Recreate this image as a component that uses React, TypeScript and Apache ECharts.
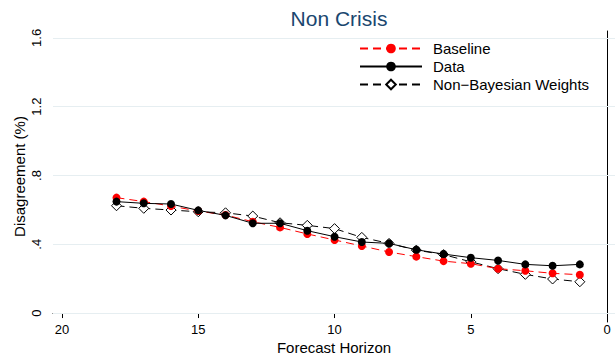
import React, { useEffect, useRef } from "react";
import * as echarts from "echarts";

const horizon = [18, 17, 16, 15, 14, 13, 12, 11, 10, 9, 8, 7, 6, 5, 4, 3, 2, 1];
const baseline = [0.671, 0.648, 0.622, 0.593, 0.570, 0.531, 0.498, 0.460, 0.425, 0.390, 0.355, 0.328, 0.302, 0.287, 0.258, 0.246, 0.231, 0.223];
const dataSeries = [0.648, 0.638, 0.634, 0.597, 0.568, 0.522, 0.522, 0.479, 0.444, 0.413, 0.405, 0.368, 0.343, 0.322, 0.306, 0.283, 0.275, 0.283];
const nonBayes = [0.624, 0.609, 0.599, 0.589, 0.583, 0.564, 0.525, 0.510, 0.491, 0.440, 0.405, 0.366, 0.340, 0.298, 0.258, 0.225, 0.198, 0.182];
const xTicks = [0, 5, 10, 15, 20];
const yTicks = [0, 0.4, 0.8, 1.2, 1.6];
const yTickLabels: Record<string, string> = { "0": "0", "0.4": ".4", "0.8": ".8", "1.2": "1.2", "1.6": "1.6" };

const FONT = "Liberation Sans, Arial, Helvetica, sans-serif";

export default function App() {
  const ref = useRef<HTMLDivElement>(null);
  useEffect(() => {
    if (!ref.current) return;
    const chart = echarts.init(ref.current, null, { renderer: "svg" });
    const pairs = (arr: number[]) => horizon.map((h, i) => [h, arr[i]]);
    chart.setOption({
      animation: false,
      backgroundColor: "#ffffff",
      textStyle: { fontFamily: FONT },
      title: {
        text: "Non Crisis",
        left: 334,
        textAlign: "center",
        top: 3,
        textStyle: { color: "#1a476f", fontSize: 21, fontWeight: "normal", fontFamily: FONT },
      },
      legend: {
        left: 354,
        top: 36,
        orient: "vertical",
        itemWidth: 62,
        itemHeight: 12,
        itemGap: 3,
        textStyle: { fontSize: 15, color: "#000", fontFamily: FONT, padding: [0, 0, 0, 6] },
        data: ["Baseline", "Data", "Non\u2212Bayesian Weights"],
      },
      grid: { left: 53, right: 0, top: 31, bottom: 38, outerBoundsMode: "none", containLabel: false },
      xAxis: {
        type: "value",
        inverse: true,
        min: -0.29,
        max: 20.33,
        name: "Forecast Horizon",
        nameLocation: "middle",
        nameGap: 18,
        nameMoveOverlap: false,
        nameTextStyle: { fontSize: 15, color: "#000", fontFamily: FONT },
        axisLine: { show: true, lineStyle: { color: "#000", width: 1 } },
        axisTick: { show: true, customValues: xTicks, length: 5, lineStyle: { color: "#000" } },
        axisLabel: { customValues: xTicks, fontSize: 13, color: "#000", margin: 1, fontFamily: FONT },
        splitLine: { show: false },
      },
      yAxis: {
        type: "value",
        min: -0.052,
        max: 1.64,
        name: "Disagreement (%)",
        nameLocation: "middle",
        nameGap: 26,
        nameMoveOverlap: false,
        nameRotate: 90,
        nameTextStyle: { fontSize: 15, color: "#000", fontFamily: FONT },
        axisLine: { show: true, lineStyle: { color: "#000", width: 1 } },
        axisTick: { show: true, customValues: yTicks, length: 5, lineStyle: { color: "#000" } },
        axisLabel: {
          customValues: yTicks,
          rotate: 90,
          fontSize: 13,
          color: "#000",
          margin: 10,
          fontFamily: FONT,
          formatter: (v: number) => yTickLabels[String(Math.round(v * 10) / 10)] ?? String(v),
        },
        splitLine: { show: false },
      },
      series: [
        {
          name: "Baseline",
          type: "line",
          data: pairs(baseline),
          z: 3,
          symbol: "circle",
          symbolSize: 8,
          itemStyle: { color: "#ff0000" },
          lineStyle: { color: "#ff0000", width: 1, type: [8, 5] },
          markLine: {
            silent: true,
            symbol: "none",
            label: { show: false },
            lineStyle: { color: "#e6eef1", type: "solid", width: 1 },
            data: yTicks.map((v) => ({ yAxis: v })),
            z: 1,
          },
        },
        {
          name: "Data",
          type: "line",
          data: pairs(dataSeries),
          z: 4,
          symbol: "circle",
          symbolSize: 8,
          itemStyle: { color: "#000000" },
          lineStyle: { color: "#000000", width: 1, type: "solid" },
        },
        {
          name: "Non\u2212Bayesian Weights",
          type: "line",
          data: pairs(nonBayes),
          z: 2,
          symbol: "diamond",
          symbolSize: 10,
          itemStyle: { color: "#ffffff", borderColor: "#000000", borderWidth: 1 },
          lineStyle: { color: "#000000", width: 1, type: [8, 5] },
        },
      ],
    });
    return () => chart.dispose();
  }, []);
  return <div ref={ref} style={{ width: 615, height: 360, position: "absolute", left: 0, top: 0 }} />;
}
